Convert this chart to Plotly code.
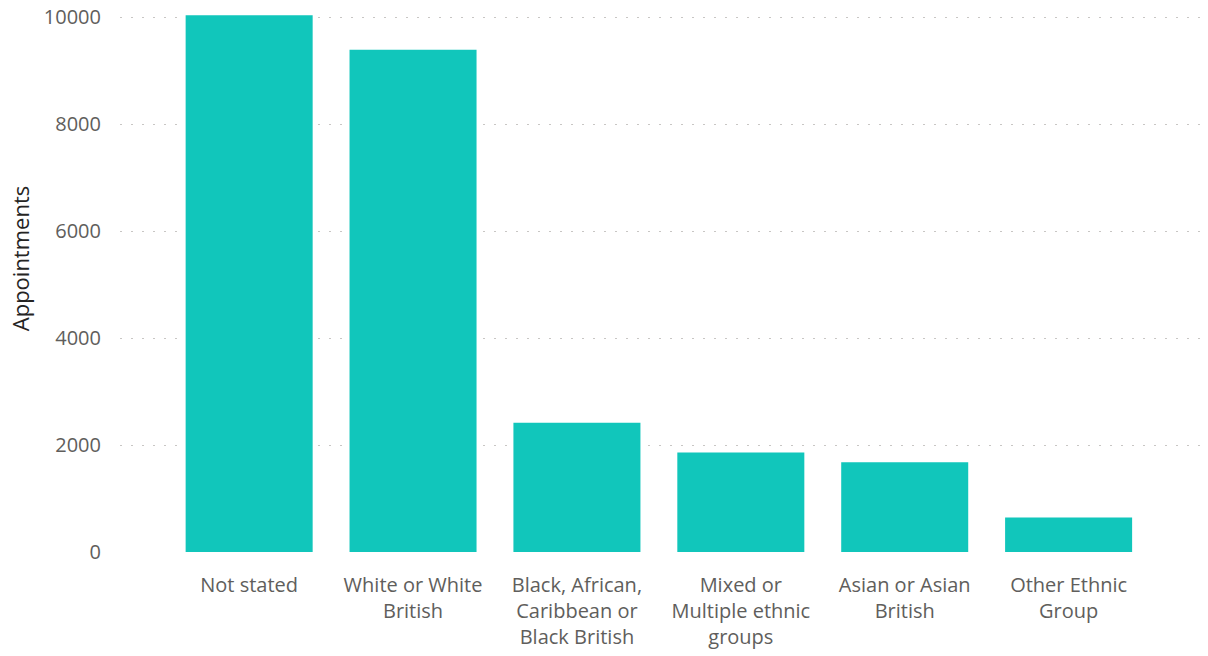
import plotly.graph_objects as go

categories = ["Not stated", "White or White<br>British", "Black, African,<br>Caribbean or<br>Black British",
              "Mixed or<br>Multiple ethnic<br>groups", "Asian or Asian<br>British", "Other Ethnic<br>Group"]
appointments = [10040, 9395, 2416, 1861, 1680, 644]
y_ticks = [0, 2000, 4000, 6000, 8000, 10000]
y_title = "Appointments"

fig = go.Figure(go.Bar(x=categories, y=appointments, marker=dict(color="#11C6BB", line=dict(width=0))))

fig.update_layout(
    width=1208, height=656,
    margin=dict(l=120, r=5, t=12, b=104),
    paper_bgcolor="white", plot_bgcolor="white",
    bargap=0.225,
    showlegend=False,
    font=dict(family="Open Sans, Segoe UI, sans-serif", size=19, color="#605E5C"),
    annotations=[dict(
        text=y_title, textangle=-90, xref="paper", yref="paper",
        x=0, y=0.544, xanchor="center", yanchor="middle", xshift=-100,
        showarrow=False, borderpad=0, font=dict(size=22, color="#252423"),
    )],
)
fig.update_xaxes(
    range=[-0.788, 5.82], showgrid=False, showline=False, ticks="",
    automargin=False,
    ticklabelstandoff=19, tickfont=dict(size=20, color="#605E5C"),
)
fig.update_yaxes(
    range=[0, 10100], tickvals=y_ticks, ticktext=[str(v) for v in y_ticks],
    showgrid=True, gridcolor="#C8C6C4", griddash="1.5px,9.5px", gridwidth=1.2,
    zeroline=False, showline=False, ticks="", ticklabelstandoff=18,
    ticklabeloverflow="allow", automargin=False,
    tickfont=dict(size=20, color="#605E5C"),
)

fig.write_html("out.html", config={"displayModeBar": False},
               post_script="document.body.style.margin='0';")
